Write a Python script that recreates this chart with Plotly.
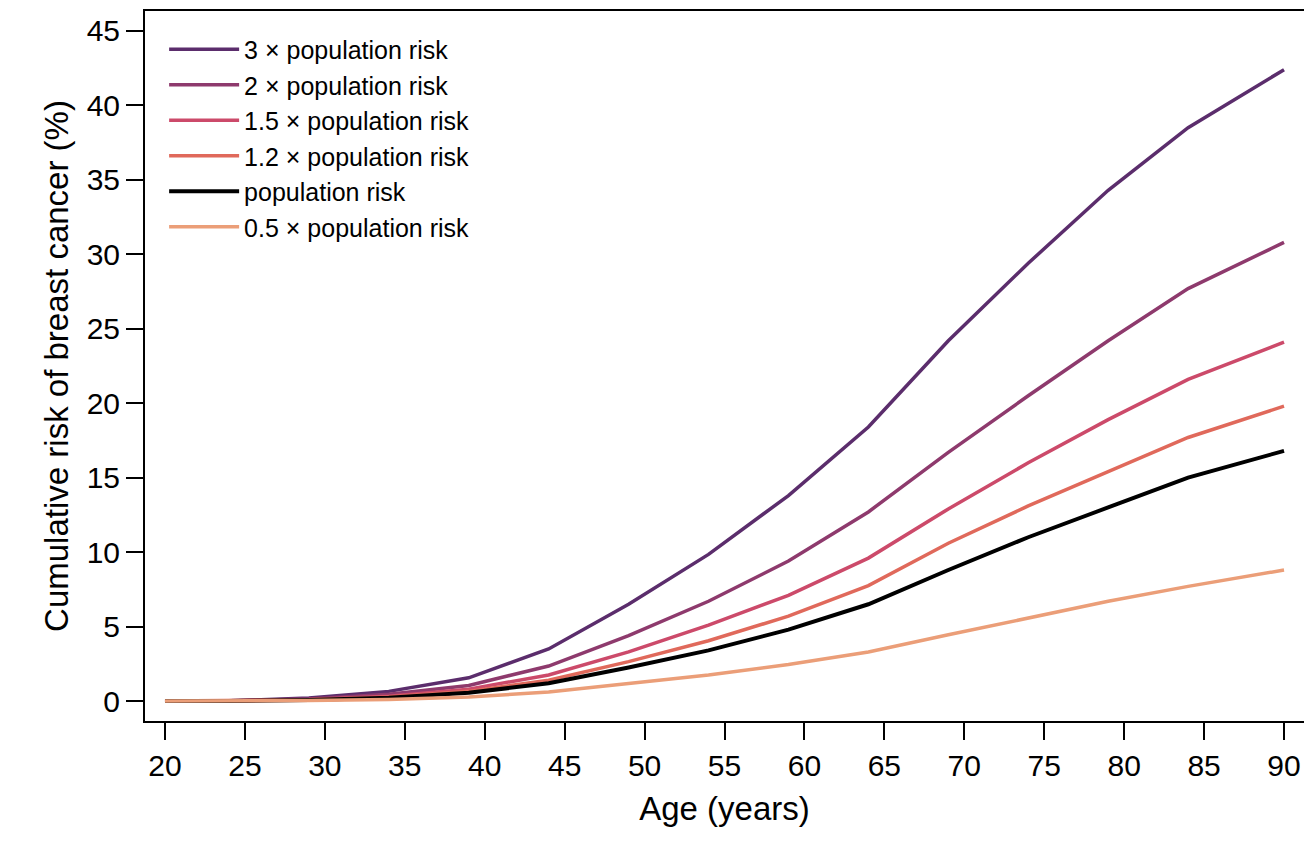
import plotly.graph_objects as go

ages = [20, 24, 29, 34, 39, 44, 49, 54, 59, 64, 69, 74, 79, 84, 90]

risk_3x = [0, 0.02, 0.2, 0.65, 1.56, 3.5, 6.5, 9.85, 13.8, 18.4, 24.2, 29.4, 34.3, 38.5, 42.4]
risk_2x = [0, 0.01, 0.14, 0.45, 1.05, 2.35, 4.4, 6.7, 9.4, 12.7, 16.7, 20.5, 24.2, 27.7, 30.8]
risk_15x = [0, 0.01, 0.1, 0.33, 0.8, 1.75, 3.3, 5.1, 7.1, 9.6, 12.9, 16.0, 18.9, 21.6, 24.1]
risk_12x = [0, 0.01, 0.08, 0.27, 0.65, 1.4, 2.65, 4.05, 5.7, 7.75, 10.6, 13.1, 15.4, 17.7, 19.8]
risk_pop = [0, 0.0, 0.07, 0.22, 0.55, 1.2, 2.25, 3.4, 4.8, 6.5, 8.8, 11.0, 13.0, 15.0, 16.8]
risk_05x = [0, 0.0, 0.03, 0.11, 0.28, 0.6, 1.15, 1.75, 2.45, 3.3, 4.45, 5.6, 6.7, 7.7, 8.8]

series_names = ["3 × population risk", "2 × population risk", "1.5 × population risk",
                "1.2 × population risk", "population risk", "0.5 × population risk"]
series_values = [risk_3x, risk_2x, risk_15x, risk_12x, risk_pop, risk_05x]
series_colors = ["#5b2d6c", "#8e3a6d", "#cc4a6a", "#e0695b", "#000000", "#eb9e78"]
series_widths = [3.5, 3.5, 3.5, 3.5, 4, 3.5]

x_ticks = list(range(20, 95, 5))
y_ticks = list(range(0, 50, 5))

FONT = "Liberation Sans, Arial, sans-serif"

fig = go.Figure()
for name, vals, col, w in zip(series_names, series_values, series_colors, series_widths):
    fig.add_trace(go.Scatter(
        x=ages, y=vals, mode="lines", name=name,
        line=dict(color=col, width=w),
    ))

fig.update_layout(
    template="none",
    width=1312, height=865,
    margin=dict(l=137, r=16, t=3, b=152, autoexpand=False),
    paper_bgcolor="white", plot_bgcolor="white",
    font=dict(family=FONT, color="black"),
    showlegend=True,
    legend=dict(
        x=0.0165, y=0.978, xanchor="left", yanchor="top",
        font=dict(size=25, family=FONT, color="black"),
        bgcolor="rgba(0,0,0,0)",
        itemwidth=70,
        traceorder="normal",
    ),
    xaxis=dict(
        range=[18.75, 91.25], tickvals=x_ticks,
        ticks="outside", ticklen=17, tickwidth=1.5, tickcolor="black",
        showline=True, linecolor="black", linewidth=2, mirror=True,
        showgrid=False, zeroline=False, automargin=False,
        tickfont=dict(size=30, family=FONT),
        title=dict(text="Age (years)", font=dict(size=33, family=FONT), standoff=16),
    ),
    yaxis=dict(
        range=[-1.34, 46.34], tickvals=y_ticks,
        ticks="outside", ticklen=17, tickwidth=1.5, tickcolor="black",
        showline=True, linecolor="black", linewidth=2, mirror=True,
        showgrid=False, zeroline=False, automargin=False,
        tickfont=dict(size=30, family=FONT),
        title=dict(text="Cumulative risk of breast cancer (%)", font=dict(size=33, family=FONT), standoff=8),
    ),
)

fig.write_html("out.html")
